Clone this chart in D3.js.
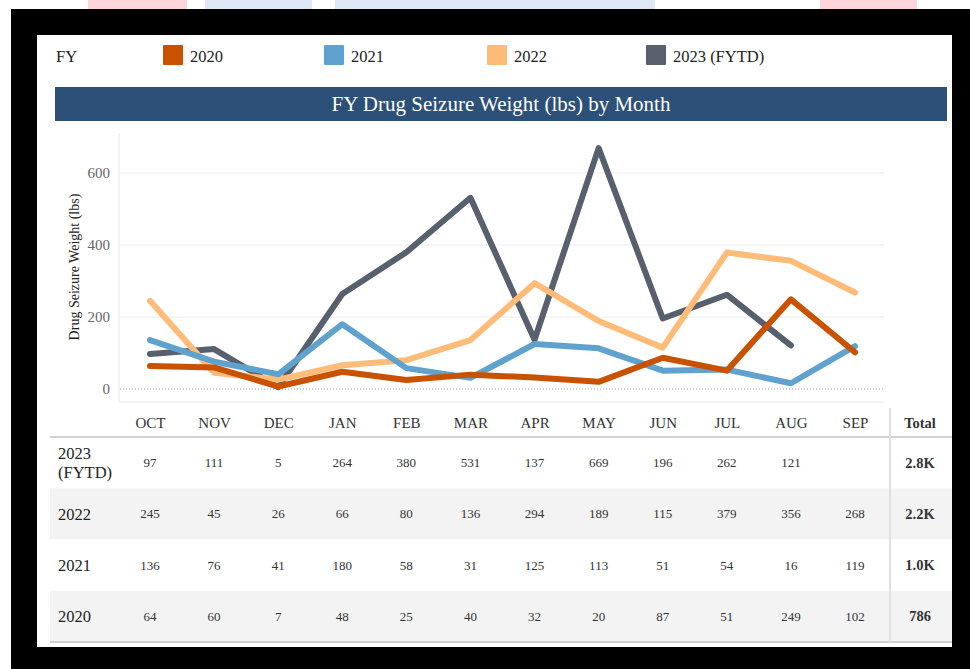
<!DOCTYPE html>
<html>
<head>
<meta charset="utf-8">
<script src="https://cdn.jsdelivr.net/npm/d3@7"></script>
<style>
  body { margin: 0; background: #fff; }
  svg { display: block; }
  svg text { font-family: "Liberation Serif", "Times New Roman", serif; }
</style>
</head>
<body>
<svg id="chart" width="970" height="669"></svg>
<script>
// data
const months = ['OCT', 'NOV', 'DEC', 'JAN', 'FEB', 'MAR', 'APR', 'MAY', 'JUN', 'JUL', 'AUG', 'SEP'];
const fy2020 = [64, 60, 7, 48, 25, 40, 32, 20, 87, 51, 249, 102];
const fy2021 = [136, 76, 41, 180, 58, 31, 125, 113, 51, 54, 16, 119];
const fy2022 = [245, 45, 26, 66, 80, 136, 294, 189, 115, 379, 356, 268];
const fy2023 = [97, 111, 5, 264, 380, 531, 137, 669, 196, 262, 121];
const seriesNames = ['2020', '2021', '2022', '2023 (FYTD)'];
const totals = { '2020': '786', '2021': '1.0K', '2022': '2.2K', '2023 (FYTD)': '2.8K' };
const yTicks = [0, 200, 400, 600];

const colors = { '2020': '#c85200', '2021': '#5fa2ce', '2022': '#ffbc79', '2023 (FYTD)': '#57606c' };
const seriesValues = { '2020': fy2020, '2021': fy2021, '2022': fy2022, '2023 (FYTD)': fy2023 };

const svg = d3.select('#chart');

// page background bits peeking above the frame
const topBits = [[88, 99, '#fdd5da'], [205, 107, '#dde7f5'], [335, 320, '#dde7f5'], [820, 97, '#fdd5da']];
svg.selectAll('rect.bit').data(topBits).enter().append('rect')
  .attr('class', 'bit')
  .attr('x', d => d[0]).attr('y', 0)
  .attr('width', d => d[1]).attr('height', 9)
  .attr('fill', d => d[2]);

// black frame + white panel
svg.append('rect').attr('x', 11).attr('y', 9).attr('width', 959).attr('height', 660).attr('fill', '#000');
svg.append('rect').attr('x', 37).attr('y', 35).attr('width', 915).attr('height', 612).attr('fill', '#fff');

// legend
svg.append('text').attr('x', 56).attr('y', 62).attr('font-size', 16.5).attr('fill', '#222').text('FY');
const legendX = [163, 324, 487, 646];
const lg = svg.selectAll('g.legend').data(seriesNames).enter().append('g')
  .attr('class', 'legend')
  .attr('transform', (d, i) => `translate(${legendX[i]},45)`);
lg.append('rect').attr('width', 20).attr('height', 20).attr('rx', 1).attr('fill', d => colors[d]);
lg.append('text').attr('x', 27).attr('y', 17).attr('font-size', 16.5).attr('fill', '#222').text(d => d);

// title bar
svg.append('rect').attr('x', 55).attr('y', 87).attr('width', 892).attr('height', 34).attr('fill', '#2c5077');
svg.append('text').attr('x', 501).attr('y', 111).attr('text-anchor', 'middle')
  .attr('font-size', 21).attr('fill', '#fff').text('FY Drug Seizure Weight (lbs) by Month');

// scales
const x = d3.scalePoint().domain(months).range([150, 855]);
const y = d3.scaleLinear().domain([-36, 711]).range([402, 133]);

// plot frame
svg.append('line').attr('x1', 119).attr('x2', 119).attr('y1', 133).attr('y2', 402).attr('stroke', '#e8e8e8');
svg.append('line').attr('x1', 119).attr('x2', 884).attr('y1', 402).attr('y2', 402).attr('stroke', '#e8e8e8');

// gridlines
svg.selectAll('line.grid').data(yTicks.filter(d => d !== 0)).enter().append('line')
  .attr('class', 'grid')
  .attr('x1', 120).attr('x2', 884)
  .attr('y1', d => y(d)).attr('y2', d => y(d))
  .attr('stroke', '#ececec');
svg.append('line').attr('x1', 120).attr('x2', 884).attr('y1', y(0)).attr('y2', y(0))
  .attr('stroke', '#aaa').attr('stroke-dasharray', '1,2');

// y axis
const yAxis = svg.append('g').attr('transform', 'translate(110,0)')
  .call(d3.axisLeft(y).tickValues(yTicks).tickSize(0).tickPadding(0));
yAxis.select('.domain').remove();
yAxis.selectAll('text').attr('font-size', 15).attr('fill', '#666');

svg.append('text')
  .attr('transform', 'translate(79,267) rotate(-90)')
  .attr('text-anchor', 'middle').attr('font-size', 14).attr('fill', '#222')
  .text('Drug Seizure Weight (lbs)');

// lines
const line = d3.line()
  .x((d, i) => x(months[i]))
  .y(d => y(d));
const drawOrder = ['2023 (FYTD)', '2022', '2021', '2020'];
svg.selectAll('path.series').data(drawOrder).enter().append('path')
  .attr('class', 'series')
  .attr('d', d => line(seriesValues[d]))
  .attr('fill', 'none')
  .attr('stroke', d => colors[d])
  .attr('stroke-width', 6)
  .attr('stroke-linejoin', 'round')
  .attr('stroke-linecap', 'round');

// table
const rowOrder = ['2023 (FYTD)', '2022', '2021', '2020'];
const rowTop = 437, rowH = 51.25;

const rows = svg.selectAll('g.row').data(rowOrder).enter().append('g')
  .attr('class', 'row')
  .attr('transform', (d, i) => `translate(0,${rowTop + i * rowH})`);
rows.append('rect')
  .attr('x', 50).attr('width', 902).attr('height', rowH)
  .attr('fill', (d, i) => i % 2 ? '#f3f3f3' : '#fff');

// month header
const header = svg.append('g').attr('transform', 'translate(0,428)')
  .call(d3.axisBottom(x).tickSize(0).tickPadding(0));
header.select('.domain').remove();
header.selectAll('text').attr('font-size', 15).attr('fill', '#333').attr('dy', 0);
svg.append('text').attr('x', 920).attr('y', 428).attr('text-anchor', 'middle')
  .attr('font-size', 14.5).attr('font-weight', 'bold').attr('fill', '#333').text('Total');

svg.append('line').attr('x1', 50).attr('x2', 952).attr('y1', rowTop).attr('y2', rowTop).attr('stroke', '#d0d0d0').attr('stroke-width', 2);
svg.append('line').attr('x1', 50).attr('x2', 952).attr('y1', rowTop + 4 * rowH).attr('y2', rowTop + 4 * rowH).attr('stroke', '#d0d0d0').attr('stroke-width', 2);
svg.append('line').attr('x1', 890).attr('x2', 890).attr('y1', 408).attr('y2', rowTop + 4 * rowH).attr('stroke', '#e0e0e0').attr('stroke-width', 2);

// row labels
rows.each(function(d) {
  const g = d3.select(this);
  const parts = d.split(' ');
  const t = g.append('text').attr('x', 58).attr('font-size', 16.5).attr('fill', '#222');
  if (parts.length > 1) {
    t.append('tspan').attr('x', 58).attr('y', 22).text(parts[0]);
    t.append('tspan').attr('x', 58).attr('y', 41).text(parts[1]);
  } else {
    t.attr('y', rowH / 2 + 6).text(d);
  }
});

// cells
rows.selectAll('text.cell').data(d => seriesValues[d]).enter().append('text')
  .attr('class', 'cell')
  .attr('x', (v, i) => x(months[i]))
  .attr('y', rowH / 2 + 4.5)
  .attr('text-anchor', 'middle')
  .attr('font-size', 13).attr('fill', '#333')
  .text(v => v);

rows.append('text')
  .attr('x', 920).attr('y', rowH / 2 + 5)
  .attr('text-anchor', 'middle')
  .attr('font-size', 14.5).attr('font-weight', 'bold').attr('fill', '#333')
  .text(d => totals[d]);
</script>
</body>
</html>
